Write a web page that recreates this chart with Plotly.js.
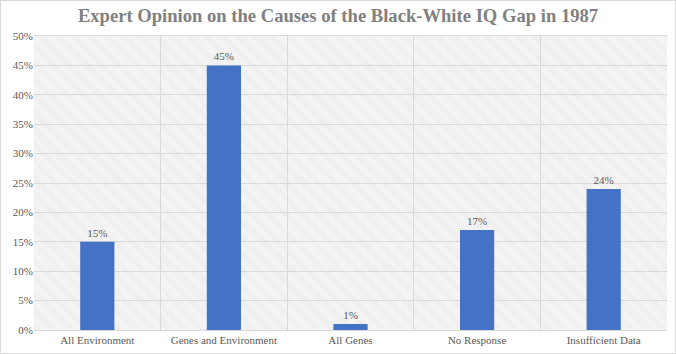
<!DOCTYPE html>
<html><head><meta charset="utf-8">
<script src="https://cdn.plot.ly/plotly-3.0.1.min.js"></script>
<style>
html,body{margin:0;padding:0;background:#fff;}
#wrap{position:relative;width:676px;height:354px;}
#frame{position:absolute;left:0;top:0;width:674px;height:352px;border:1px solid #d9d9d9;}
#hatch{position:absolute;left:34px;top:36px;width:633px;height:294px;
background-color:#f7f7f7;
background-image:repeating-linear-gradient(45deg,#ececec 0px,#ececec 1px,transparent 1px,transparent 2px);}
#chart{position:absolute;left:0;top:0;width:676px;height:354px;}
</style></head>
<body><div id="wrap"><div id="frame"></div><div id="hatch"></div><div id="chart"></div></div>
<script>
var categories = ["All Environment","Genes and Environment","All Genes","No Response","Insufficient Data"];
var values = [0.15,0.45,0.01,0.17,0.24];
var labels = ["15%","45%","1%","17%","24%"];
var yTicks = [0,0.05,0.1,0.15,0.2,0.25,0.3,0.35,0.4,0.45,0.5];
var yTickText = ["0%","5%","10%","15%","20%","25%","30%","35%","40%","45%","50%"];
var titleText = "Expert Opinion on the Causes of the Black-White IQ Gap in 1987";

var font = "Liberation Serif, serif";
Plotly.newPlot('chart',[{
  type:'bar', x:categories, y:values, text:labels, textposition:'outside',
  textfont:{family:font,size:11,color:'#595959'}, cliponaxis:false,
  marker:{color:'#4472C4'}, width:0.27, hoverinfo:'none'
}],{
  width:676,height:354,
  margin:{l:34,r:9,t:36,b:24},
  paper_bgcolor:'rgba(0,0,0,0)', plot_bgcolor:'rgba(0,0,0,0)',
  title:{text:'<b>'+titleText+'</b>',font:{family:font,size:18.6,color:'#808080'},x:0.5,xanchor:'center',y:0.975,yanchor:'top'},
  xaxis:{type:'category',tickson:'boundaries',showgrid:true,gridcolor:'#d9d9d9',gridwidth:1,
    ticks:'',showline:true,linecolor:'#d9d9d9',mirror:true,tickangle:0,automargin:false,
    tickfont:{family:font,size:11,color:'#595959'}},
  yaxis:{range:[0,0.5],tickvals:yTicks,ticktext:yTickText,showgrid:true,gridcolor:'#d9d9d9',
    zeroline:false,showline:false,ticks:'',ticklen:0,automargin:false,
    tickfont:{family:font,size:11,color:'#595959'}},
  bargap:0.73, showlegend:false
},{displayModeBar:false,staticPlot:true});
</script></body></html>
